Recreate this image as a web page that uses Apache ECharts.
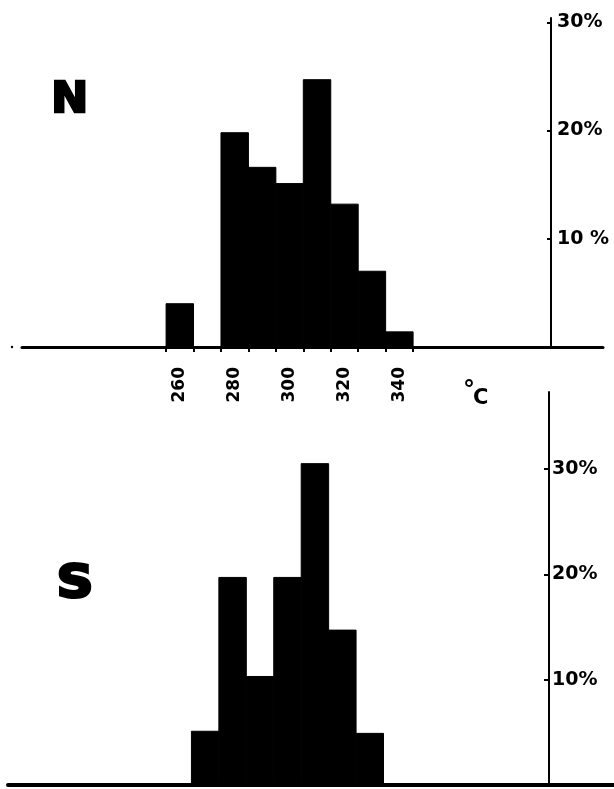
<!DOCTYPE html>
<html>
<head>
<meta charset="utf-8">
<script src="https://cdn.jsdelivr.net/npm/echarts@6/dist/echarts.min.js"></script>
<style>
html,body{margin:0;padding:0;background:#fff;}
#chart{width:614px;height:789px;}
</style>
</head>
<body>
<div id="chart"></div>
<script>
// Temperature bins (°C, bin centres, 10° wide)
const binsN = [260, 270, 280, 290, 300, 310, 320, 330, 340];
const valuesN = [4.0, 0, 19.8, 16.6, 15.1, 24.7, 13.2, 7.0, 1.4];
const binsS = [270, 280, 290, 300, 310, 320, 330];
const valuesS = [5.1, 19.7, 10.3, 19.7, 30.5, 14.7, 4.9];
const binEdges = [255, 265, 275, 285, 295, 305, 315, 325, 335, 345];
const xTickLabels = [260, 280, 300, 320, 340];
const yTickValues = [10, 20, 30];
const panelNames = ['N', 'S'];
const unitLabel = '°C';

const BIN = 10;

function renderBar(params, api) {
  const c = api.value(0), v = api.value(1);
  if (!v) return null;
  const p0 = api.coord([c - BIN / 2, 0]);
  const p1 = api.coord([c + BIN / 2, v]);
  return {
    type: 'rect',
    shape: { x: p0[0], y: p1[1], width: p1[0] - p0[0], height: p0[1] - p1[1] },
    style: { fill: '#000', stroke: '#000', lineWidth: 1 }
  };
}

const labelFont = { fontFamily: 'DejaVu Sans', fontWeight: 'bold', color: '#000' };

const chart = echarts.init(document.getElementById('chart'), null, { renderer: 'canvas' });
chart.setOption({
  animation: false,
  backgroundColor: '#fff',
  grid: [
    { left: 22, right: 11, top: 18, height: 329 },
    { left: 8, right: 0, top: 392, height: 393 }
  ],
  xAxis: [
    {
      gridIndex: 0, type: 'value', min: 202.5, max: 414.2,
      splitLine: { show: false },
      axisLine: { lineStyle: { color: '#000', width: 3 } },
      axisTick: { show: true, customValues: binEdges, length: 5, lineStyle: { color: '#000', width: 2 } },
      axisLabel: Object.assign({ customValues: xTickLabels, rotate: 90, margin: 20, fontSize: 17 }, labelFont)
    },
    {
      gridIndex: 1, type: 'value', min: 198.15, max: 419.0,
      splitLine: { show: false },
      axisLine: { lineStyle: { color: '#000', width: 4 } },
      axisTick: { show: false },
      axisLabel: { show: false }
    }
  ],
  yAxis: [
    {
      gridIndex: 0, type: 'value', min: 0, max: 30.4, position: 'right', offset: -52,
      splitLine: { show: false },
      axisLine: { show: true, onZero: false, lineStyle: { color: '#000', width: 2 } },
      axisTick: { show: true, inside: true, customValues: yTickValues, length: 4, lineStyle: { color: '#000', width: 2 } },
      axisLabel: Object.assign({
        customValues: yTickValues, margin: 6, fontSize: 19,
        formatter: v => (v === 10 ? '10 %' : v + '%')
      }, labelFont)
    },
    {
      gridIndex: 1, type: 'value', min: 0, max: 37.3, position: 'right', offset: -65,
      splitLine: { show: false },
      axisLine: { show: true, onZero: false, lineStyle: { color: '#000', width: 2 } },
      axisTick: { show: true, inside: true, customValues: yTickValues, length: 5, lineStyle: { color: '#000', width: 2 } },
      axisLabel: Object.assign({
        customValues: yTickValues, margin: 3, fontSize: 19,
        formatter: v => v + '%'
      }, labelFont)
    }
  ],
  graphic: [
    { type: 'text', left: 50, top: 79, scaleX: 1.05, style: { text: panelNames[0], font: 'bold 42px "DejaVu Sans"', fill: '#000', stroke: '#000', lineWidth: 2.5 } },
    { type: 'text', left: 55, top: 562, scaleX: 1.15, style: { text: panelNames[1], font: 'bold 44px "DejaVu Sans"', fill: '#000', stroke: '#000', lineWidth: 3 } },
    { type: 'text', left: 463, top: 380, style: { text: unitLabel.charAt(0), font: 'bold 24px "DejaVu Sans"', fill: '#000' } },
    { type: 'text', left: 473, top: 388, style: { text: unitLabel.charAt(1), font: 'bold 21px "DejaVu Sans"', fill: '#000' } },
    { type: 'circle', shape: { cx: 12, cy: 347, r: 1.2 }, style: { fill: '#000' } }
  ],
  series: [
    {
      type: 'custom', xAxisIndex: 0, yAxisIndex: 0,
      encode: { x: 0, y: 1 },
      data: binsN.map((b, i) => [b, valuesN[i]]),
      renderItem: renderBar
    },
    {
      type: 'custom', xAxisIndex: 1, yAxisIndex: 1,
      encode: { x: 0, y: 1 },
      data: binsS.map((b, i) => [b, valuesS[i]]),
      renderItem: renderBar
    }
  ]
});
</script>
</body>
</html>
